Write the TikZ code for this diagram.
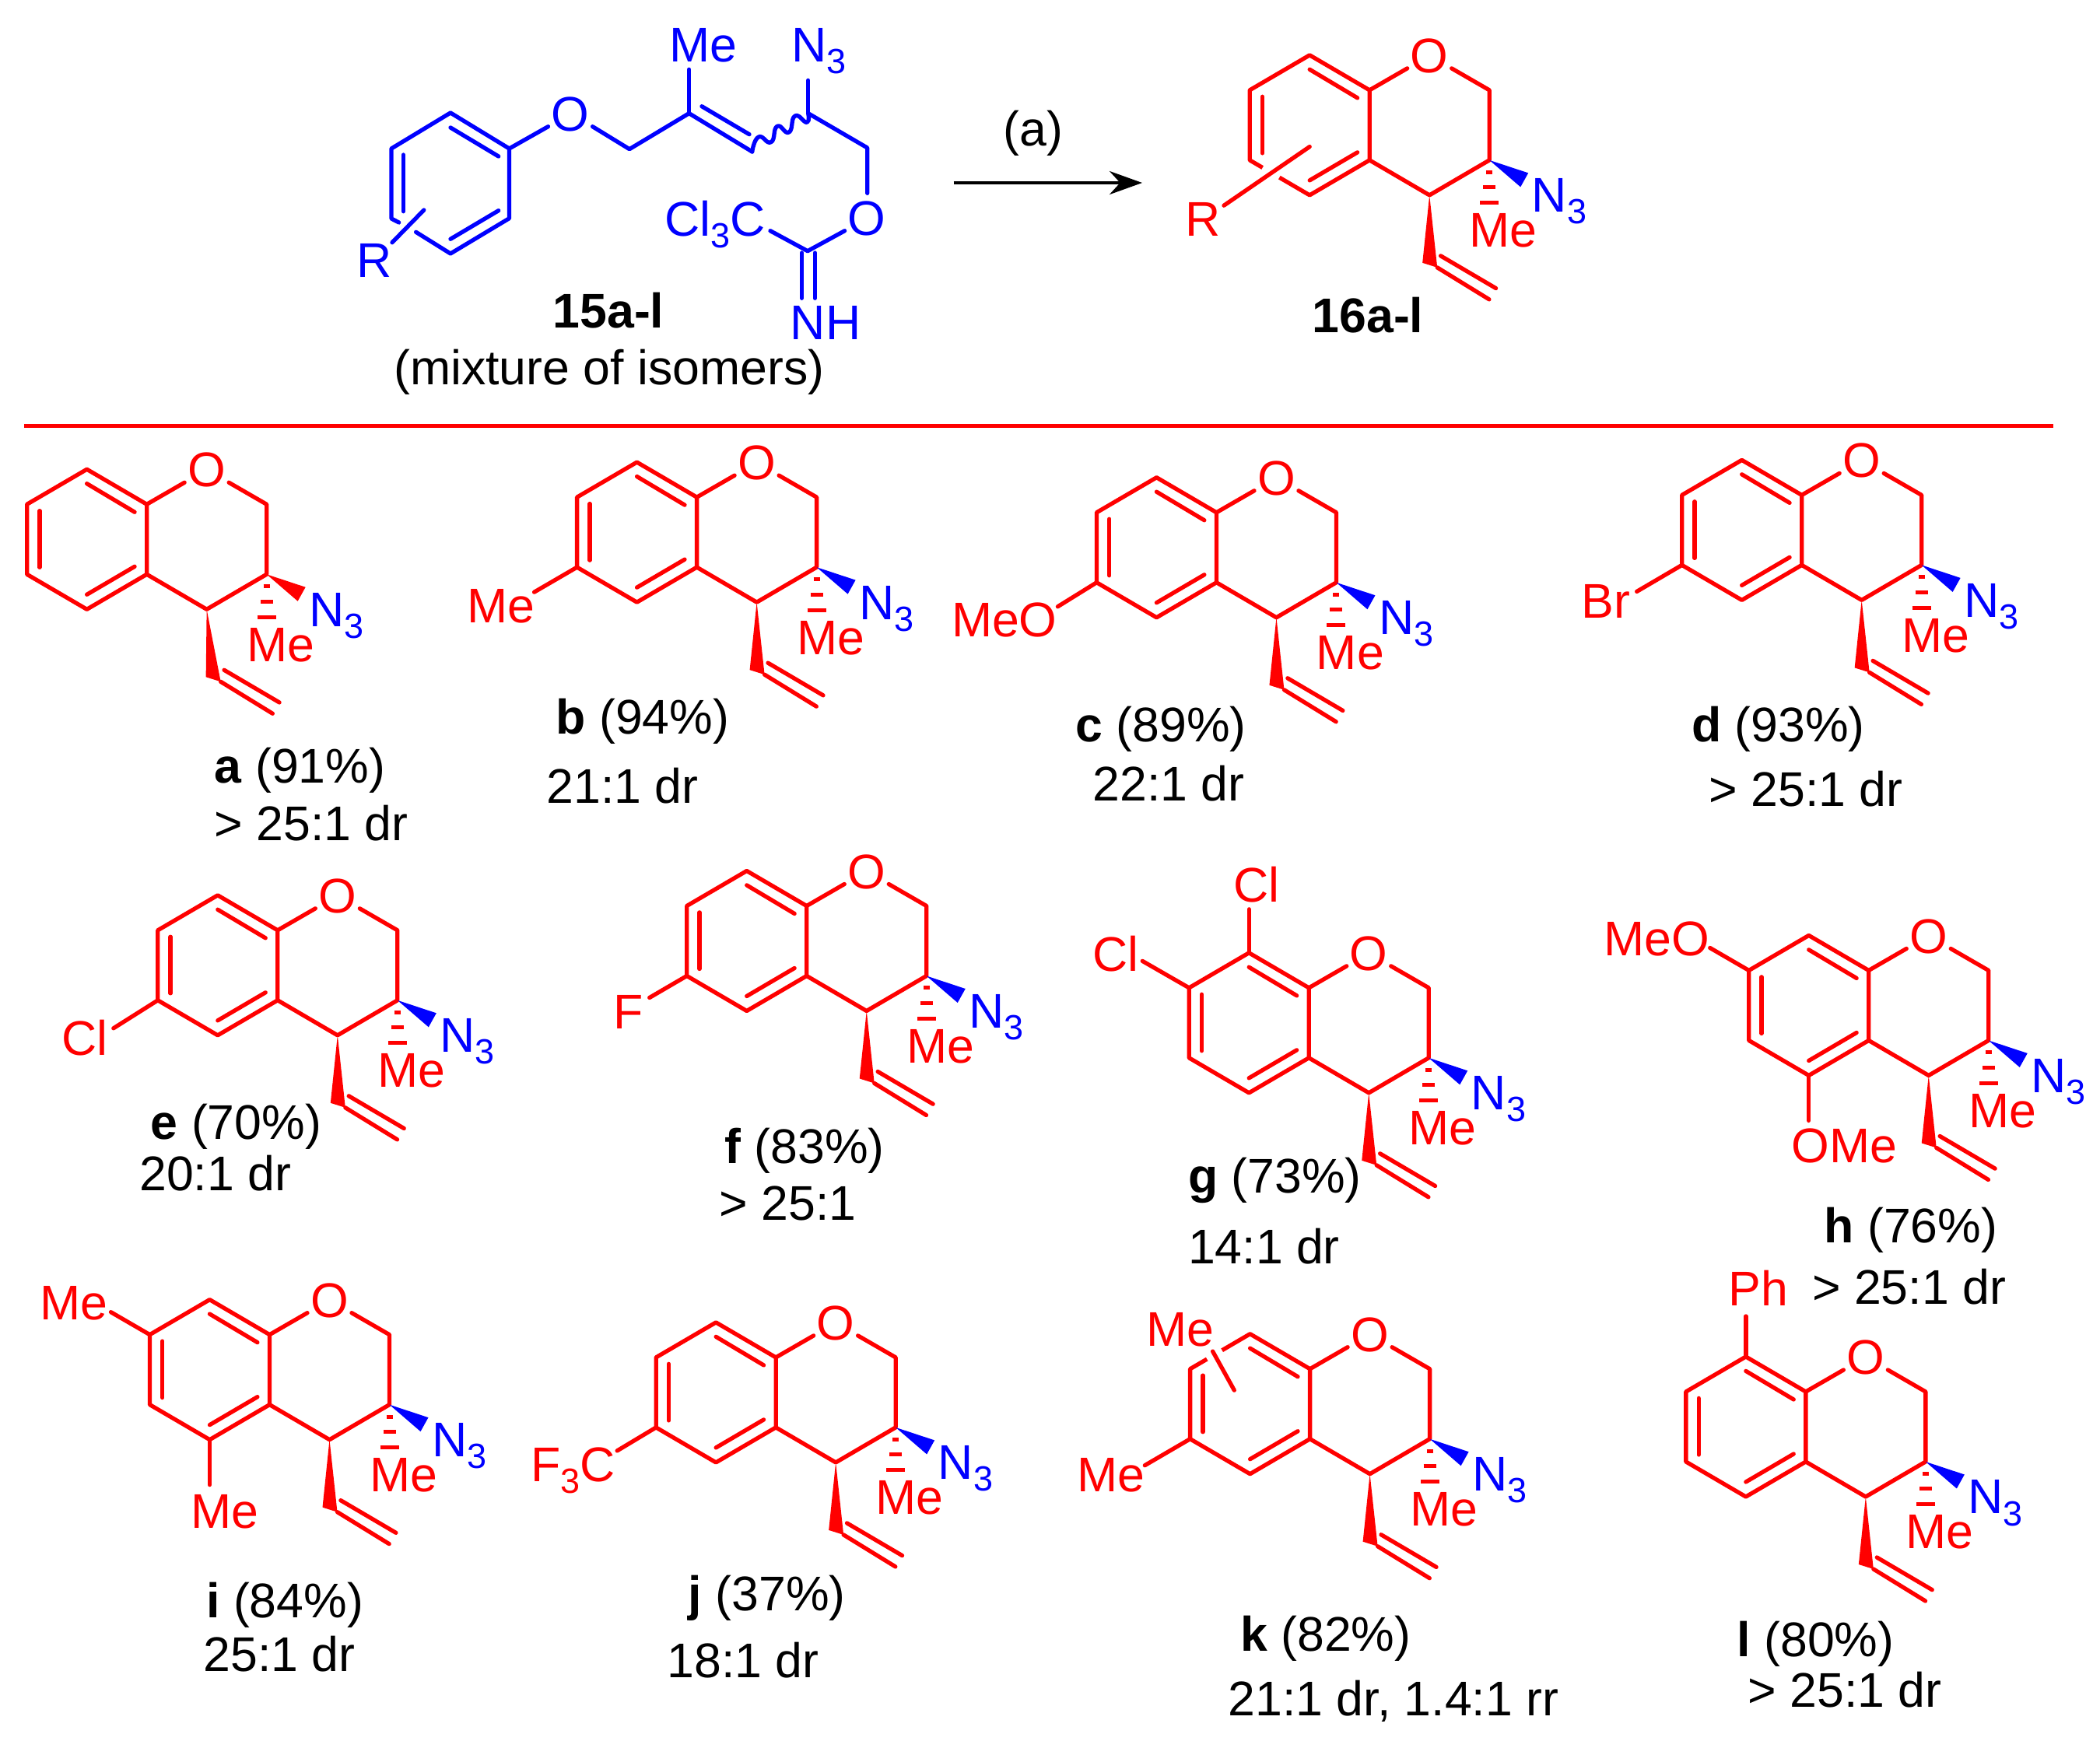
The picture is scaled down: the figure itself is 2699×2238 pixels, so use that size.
\documentclass[tikz,border=0pt]{standalone}
\usepackage{fontspec}
\setmainfont{Liberation Sans}
\usetikzlibrary{arrows.meta,calc}
\definecolor{chemred}{RGB}{255,0,0}
\definecolor{chemblue}{RGB}{0,0,255}
\newcommand{\dn}[1]{\raisebox{-0.24em}{\fontsize{45}{45}\selectfont #1}}
\tikzset{
  bond/.style={draw=chemred,line width=5.3pt,line cap=round,line join=round},
  bbond/.style={draw=chemblue,line width=5.3pt,line cap=round,line join=round},
  hash/.style={draw=chemred,line width=5pt,line cap=butt},
  lab/.style={anchor=base,inner sep=0pt,text=chemred,font=\fontsize{62.6}{70}\selectfont},
  blab/.style={lab,text=chemblue},
  cen/.style={lab,anchor=center},
  bcen/.style={blab,anchor=center},
  txt/.style={anchor=base west,inner sep=0pt,text=black,font=\fontsize{62.6}{70}\selectfont},
  ctxt/.style={txt,anchor=base},
  gapline/.style={draw=white,line width=8pt,line cap=butt}
}
\newcommand{\lab}[4]{\node[lab] (#1) at (#2,#3) {#4};}
\newcommand{\capt}[4]{\node[txt] (#1) at (#2*1.7213,#3*1.7213) {#4};}
% name, x, y (in 1568-scale px), wedge colour, vinyl shift, extras
\newcommand{\chroman}[6]{%
\begin{scope}[shift={(#2*1.7213,#3*1.7213)},name prefix=#1-]
  \coordinate (C4a) at (0,0);
  \coordinate (C8a) at (0,-90);
  \coordinate (C2) at (154,-90);
  \coordinate (C3) at (154,0);
  \coordinate (C4) at (77,45);
  \coordinate (C5) at (-77,45);
  \coordinate (C6) at (-154,0);
  \coordinate (C7) at (-154,-90);
  \coordinate (C8) at (-77,-135);
  \node[cen] (O) at (77,-134) {O};
  \draw[bond] (C8a) -- (C8) -- (C7) -- (C6) -- (C5) -- (C4a) -- cycle;
  \draw[bond] (48.5,-118) -- (C8a) (C4a) -- (C4) -- (C3) -- (C2) -- (105.5,-118);
  \draw[bond] (-77,-116.6) -- (-15.6,-80);
  \draw[bond] (-137.7,-81.6) -- (-137.7,-9);
  \draw[bond] (-15.6,-10) -- (-77,26);
  % vinyl
  \coordinate (V) at (87+#5,138);
  \fill[chemred] (C4) -- (68+#5,132) -- (V) -- cycle;
  \draw[bond] (V) -- ++(66.7,41);
  \draw[bond] ($(V)+(4.4,-15)$) -- ($(V)+(75.4,26.7)$);
  % hashed methyl and azide
  \draw[hash] (150,15.5) -- (158,15.5);
  \draw[hash] (146,35) -- (162,35);
  \draw[hash] (142,55) -- (166,55);
  \fill[#4] (C3) -- (204,16.5) -- (194,34.5) -- cycle;
  \lab{Me}{172}{112}{Me}
  \node[blab,anchor=base west] (N3) at (208.5,67) {N\dn{3}};
  #6
\end{scope}}
\begin{document}
\begin{tikzpicture}[x=1pt,y=-1pt]
\useasboundingbox (0,0) rectangle (2699,2238);
% ---------- starting material
\coordinate (r1) at (579,145);
\coordinate (r2) at (654.5,191);
\coordinate (r3) at (654.5,280.7);
\coordinate (r4) at (579,326);
\coordinate (r5) at (503,281);
\coordinate (r6) at (503,191);
\draw[bbond] (512.7,286) -- (r5) -- (r6) -- (r1) -- (r2) -- (r3) -- (r4) -- (534.6,298.3);
\draw[bbond] (579,164) -- (640.7,201);
\draw[bbond] (518.3,199) -- (518.3,271.7);
\draw[bbond] (640.7,270.7) -- (579,307.3);
\node[blab] (sR) at (481,356.5) {R};
\draw[bbond] (544.8,270) -- (504,311.7);
\node[bcen] (sO1) at (732.5,146.7) {O};
\coordinate (s1) at (809,191.7);
\coordinate (s2) at (885.6,145.7);
\coordinate (s3) at (966.7,195);
\coordinate (s4) at (1038.7,145.7);
\coordinate (s5) at (1114.7,190);
\coordinate (s6) at (1038,322.7);
\draw[bbond] (r2) -- (704.5,162.7);
\draw[bbond] (761.6,162.7) -- (s1) -- (s2) -- (s3);
\draw[bbond] (902,136.7) -- (963,172.7);
\draw[bbond] (s2) -- (885.6,89.3);
\node[blab] (sMe) at (903.5,79) {Me};
\draw[bbond] plot[smooth,tension=0.9] coordinates {(966.7,195) (975,176) (991,182.7) (998.9,162.3) (1014,170) (1021.8,149) (1037,157.3) (1038.7,145.7)};
\draw[bbond] (s4) -- (1038.7,103.3);
\node[blab,anchor=base west] (sN3) at (1017,79) {N\dn{3}};
\draw[bbond] (s4) -- (s5) -- (1114.7,248.3);
\node[bcen] (sO2) at (1113.7,280.7) {O};
\draw[bbond] (1085.6,296.7) -- (s6) -- (990,296.7);
\node[blab] (sCCl) at (919.3,303) {Cl\dn{3}C};
\draw[bbond] (1030.5,325) -- (1030.5,383.3);
\draw[bbond] (1047.3,325) -- (1047.3,383.3);
\node[blab] (sNH) at (1061,436.5) {NH};
\node[ctxt] (lab15) at (782,421) {\textbf{15a-l}};
\node[ctxt] (labmix) at (782.8,494.5) {(mixture of isomers)};
% ---------- arrow
\coordinate (ar1) at (1225.6,235);
\coordinate (ar2) at (1468,235);
\draw[black,line width=4pt,-{Stealth[length=42pt,width=30pt]}] (ar1) -- (ar2);
\node[ctxt] (laba) at (1328,187) {(a)};
% ---------- product
\chroman{P}{1022.6}{119.6}{chemblue}{0}{%
  \draw[gapline] (-137.6,10) -- (-116,22.3);
  \draw[bond] (-77,-17.3) -- (-187.2,58.3);
  \lab{R}{-214}{97.7}{R}
}
\node[ctxt] (lab16) at (1758,427.5) {\textbf{16a-l}};
% ---------- rule
\coordinate (ru1) at (31,547.5);
\coordinate (ru2) at (2639,547.5);
\draw[chemred,line width=4.6pt] (ru1) -- (ru2);
% ---------- compounds
\chroman{a}{109.6}{428.9}{chemred}{8}{}
\chroman{b}{520.3}{423.6}{chemblue}{0}{%
  \draw[bond] (C6) -- (-209,32);
  \lab{X}{-251.6}{71}{Me}}
\chroman{c}{908.3}{435}{chemblue}{0}{%
  \draw[bond] (C6) -- (-204,31);
  \lab{X}{-272.6}{70}{MeO}}
\chroman{d}{1345.3}{422}{chemblue}{0}{%
  \draw[bond] (C6) -- (-212,34);
  \lab{X}{-252}{68}{Br}}
\chroman{e}{207.3}{747}{chemblue}{0}{%
  \draw[bond] (C6) -- (-211,36);
  \lab{X}{-248}{71}{Cl}}
\chroman{f}{602.3}{728.8}{chemblue}{0}{%
  \draw[bond] (C6) -- (-202,28);
  \lab{X}{-229.4}{68}{F}}
\chroman{g}{977.3}{790}{chemblue}{0}{%
  \draw[bond] (C7) -- (-214,-124.5);
  \lab{X}{-248.4}{-111}{Cl}
  \draw[bond] (C8) -- (-77,-191);
  \lab{Y}{-67.6}{-200}{Cl}}
\chroman{h}{1395.3}{777}{chemblue}{0}{%
  \draw[bond] (C7) -- (-204,-119);
  \lab{X}{-272.5}{-109}{MeO}
  \draw[bond] (C5) -- (-77,103);
  \lab{Y}{-31.5}{157}{OMe}}
\chroman{i}{201.3}{1049}{chemblue}{0}{%
  \draw[bond] (C7) -- (-204,-119);
  \lab{X}{-251.8}{-109}{Me}
  \draw[bond] (C5) -- (-77,103);
  \lab{Y}{-57.3}{159}{Me}}
\chroman{j}{579.3}{1066}{chemblue}{0}{%
  \draw[bond] (C6) -- (-204,30);
  \lab{X}{-260.4}{70}{F\dn{3}C}}
\chroman{k}{978.1}{1074.6}{chemblue}{0}{%
  \draw[gapline] (-132.2,-102.6) -- (-113,-113.8);
  \draw[bond] (-125,-112.6) -- (-97.3,-62.6);
  \lab{Y}{-166.6}{-119.3}{Me}
  \draw[bond] (C6) -- (-212.3,34);
  \lab{X}{-255.6}{67.4}{Me}}
\chroman{l}{1348.3}{1091.6}{chemblue}{0}{%
  \draw[bond] (C8) -- (-77,-187);
  \lab{X}{-60.8}{-200}{Ph}}
% ---------- captions
\capt{ca}{160}{585}{\textbf{a} (91\%)}
\capt{ca2}{160}{628}{> 25:1 dr}
\capt{cb}{415}{548}{\textbf{b} (94\%)}
\capt{cb2}{408}{600}{21:1 dr}
\capt{cc}{803}{554}{\textbf{c} (89\%)}
\capt{cc2}{816}{598}{22:1 dr}
\capt{cd}{1263}{554}{\textbf{d} (93\%)}
\capt{cd2}{1276}{602}{> 25:1 dr}
\capt{ce}{112.5}{851}{\textbf{e} (70\%)}
\capt{ce2}{104}{889}{20:1 dr}
\capt{cf}{541}{869}{\textbf{f} (83\%)}
\capt{cf2}{537}{911}{> 25:1}
\capt{cg}{887}{891}{\textbf{g} (73\%)}
\capt{cg2}{887}{944}{14:1 dr}
\capt{ch}{1362}{928}{\textbf{h} (76\%)}
\capt{ch2}{1353}{974}{> 25:1 dr}
\capt{ci}{154}{1208}{\textbf{i} (84\%)}
\capt{ci2}{152}{1248}{25:1 dr}
\capt{cj}{514}{1203}{\textbf{j} (37\%)}
\capt{cj2}{498}{1253}{18:1 dr}
\capt{ck}{926}{1233}{\textbf{k} (82\%)}
\capt{ck2}{917}{1281}{21:1 dr, 1.4:1 rr}
\capt{cl}{1297}{1237}{\textbf{l} (80\%)}
\capt{cl2}{1305}{1275}{> 25:1 dr}
\end{tikzpicture}
\end{document}
